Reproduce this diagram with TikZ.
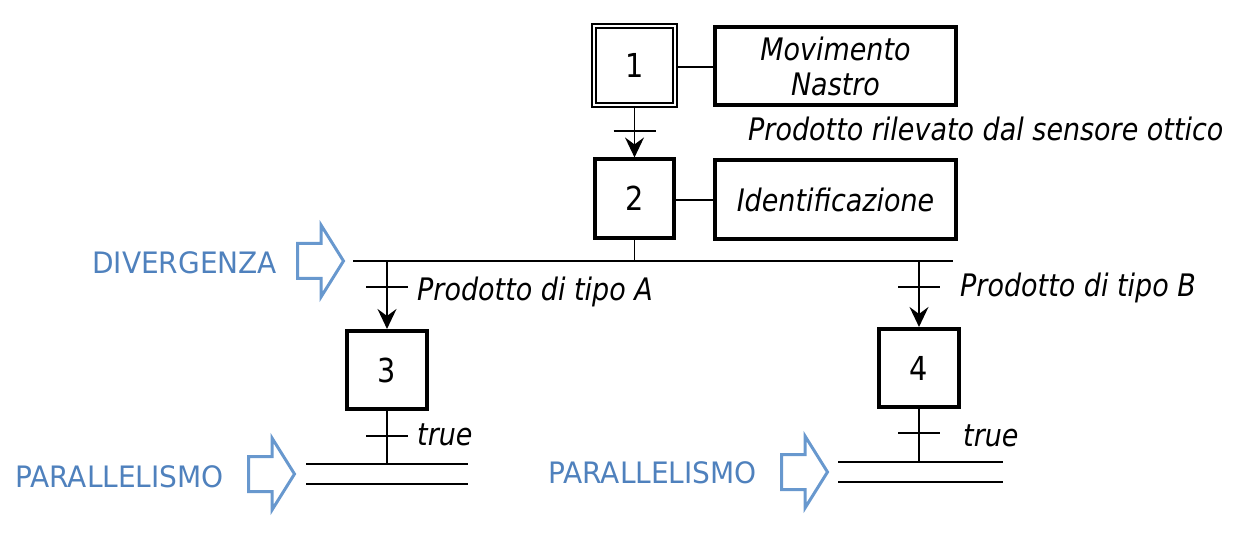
\documentclass[tikz,border=0pt]{standalone}
\usepackage{fontspec}
\setmainfont{DejaVu Sans}[FakeStretch=0.87]
\newfontfamily\bluefont{DejaVu Sans}[FakeStretch=0.95]
\usetikzlibrary{arrows.meta}
\definecolor{lblue}{RGB}{79,129,189}
\definecolor{ablue}{RGB}{104,152,206}
\begin{document}
\begin{tikzpicture}[x=1pt,y=-1pt,
  mainfont/.style={font=\fontsize{33}{35}\selectfont},
  stepbox/.style={draw, line width=3.6pt, minimum width=79.5pt, minimum height=78.5pt, inner sep=0pt, mainfont},
  initbox/.style={draw, double, double distance=2.2pt, line width=2.1pt, outer sep=3.2pt, minimum width=81pt, minimum height=79pt, inner sep=0pt, mainfont},
  actbox/.style={draw, line width=3.6pt, minimum width=241pt, minimum height=78.5pt, inner sep=0pt, align=center, font=\fontsize{31}{35}\selectfont\itshape},
  conn/.style={line width=1.6pt},
  arr/.style={conn, -{Stealth[length=20pt,width=19pt,inset=7pt]}},
  cond/.style={inner sep=0pt, anchor=base west, font=\fontsize{31}{35}\selectfont\itshape},
  bluelabel/.style={inner sep=0pt, anchor=base west, text=lblue, font=\fontsize{29.5}{33}\bluefont},
  pics/blockarrow/.style={code={
    \draw[ablue, line width=3pt, miter limit=10] (-1.5,0) -- (-24,-36) -- (-24,-17.5) -- (-47.5,-17.5) -- (-47.5,17.5) -- (-24,17.5) -- (-24,36) -- cycle;}}
]
\useasboundingbox (0,0) rectangle (1246,534);

% steps
\node[initbox] (s1) at (634.5,65.5) {1};
\node[stepbox] (s2) at (634.5,198.5) {2};
\node[stepbox] (s3) at (387,370) {3};
\node[stepbox] (s4) at (919,368) {4};

% actions
\node[actbox] (a1) at (835.5,66) {Movimento\\Nastro};
\node[actbox] (a2) at (835.5,199.5) {Identificazione};
\draw[conn] (s1.east |- 0,67) -- (a1.west |- 0,67);
\draw[conn] (s2.east |- 0,200) -- (a2.west |- 0,200);

% transition 1 -> 2
\coordinate (t1) at (634.5,131);
\draw[arr] (s1.south) -- (s2.north);
\draw[conn] ([xshift=-21pt]t1) -- ([xshift=21pt]t1);
\node[cond] (c1) at (748,141) {Prodotto rilevato dal sensore ottico};

% divergence
\coordinate (dL) at (353,261);
\coordinate (dR) at (953,261);
\coordinate (d2) at (634.5,261);
\coordinate (d3) at (387,261);
\coordinate (d4) at (919,261);
\draw[conn] (dL) -- (dR);
\draw[conn] (s2.south) -- (d2);
\draw[arr] (d3) -- (s3.north);
\draw[arr] (d4) -- (s4.north);
\coordinate (t3) at (387,287);
\coordinate (t4) at (919,287);
\draw[conn] ([xshift=-21pt]t3) -- ([xshift=21pt]t3);
\draw[conn] ([xshift=-21pt]t4) -- ([xshift=21pt]t4);
\node[cond] (cA) at (417,301) {Prodotto di tipo A};
\node[cond] (cB) at (960,297) {Prodotto di tipo B};

% below step 3
\coordinate (p3) at (387,464);
\coordinate (tt3) at (387,436);
\draw[conn] (s3.south) -- (p3);
\draw[conn] ([xshift=-21pt]tt3) -- ([xshift=21pt]tt3);
\node[cond] (true3) at (417,445) {true};
\coordinate (l3a) at (306,464); \coordinate (l3b) at (468,464);
\coordinate (l3c) at (306,484); \coordinate (l3d) at (468,484);
\draw[conn] (l3a) -- (l3b);
\draw[conn] (l3c) -- (l3d);

% below step 4
\coordinate (p4) at (919,462);
\coordinate (tt4) at (919,433);
\draw[conn] (s4.south) -- (p4);
\draw[conn] ([xshift=-21pt]tt4) -- ([xshift=21pt]tt4);
\node[cond] (true4) at (963,446) {true};
\coordinate (l4a) at (838,462); \coordinate (l4b) at (1003,462);
\coordinate (l4c) at (838,482); \coordinate (l4d) at (1003,482);
\draw[conn] (l4a) -- (l4b);
\draw[conn] (l4c) -- (l4d);

% blue annotations
\node[bluelabel] (divlab) at (92,273) {DIVERGENZA};
\pic at (345,261) {blockarrow};
\node[bluelabel] (par1) at (15,487) {PARALLELISMO};
\pic at (296,474) {blockarrow};
\node[bluelabel] (par2) at (548,483) {PARALLELISMO};
\pic at (829,472) {blockarrow};
\end{tikzpicture}
\end{document}
